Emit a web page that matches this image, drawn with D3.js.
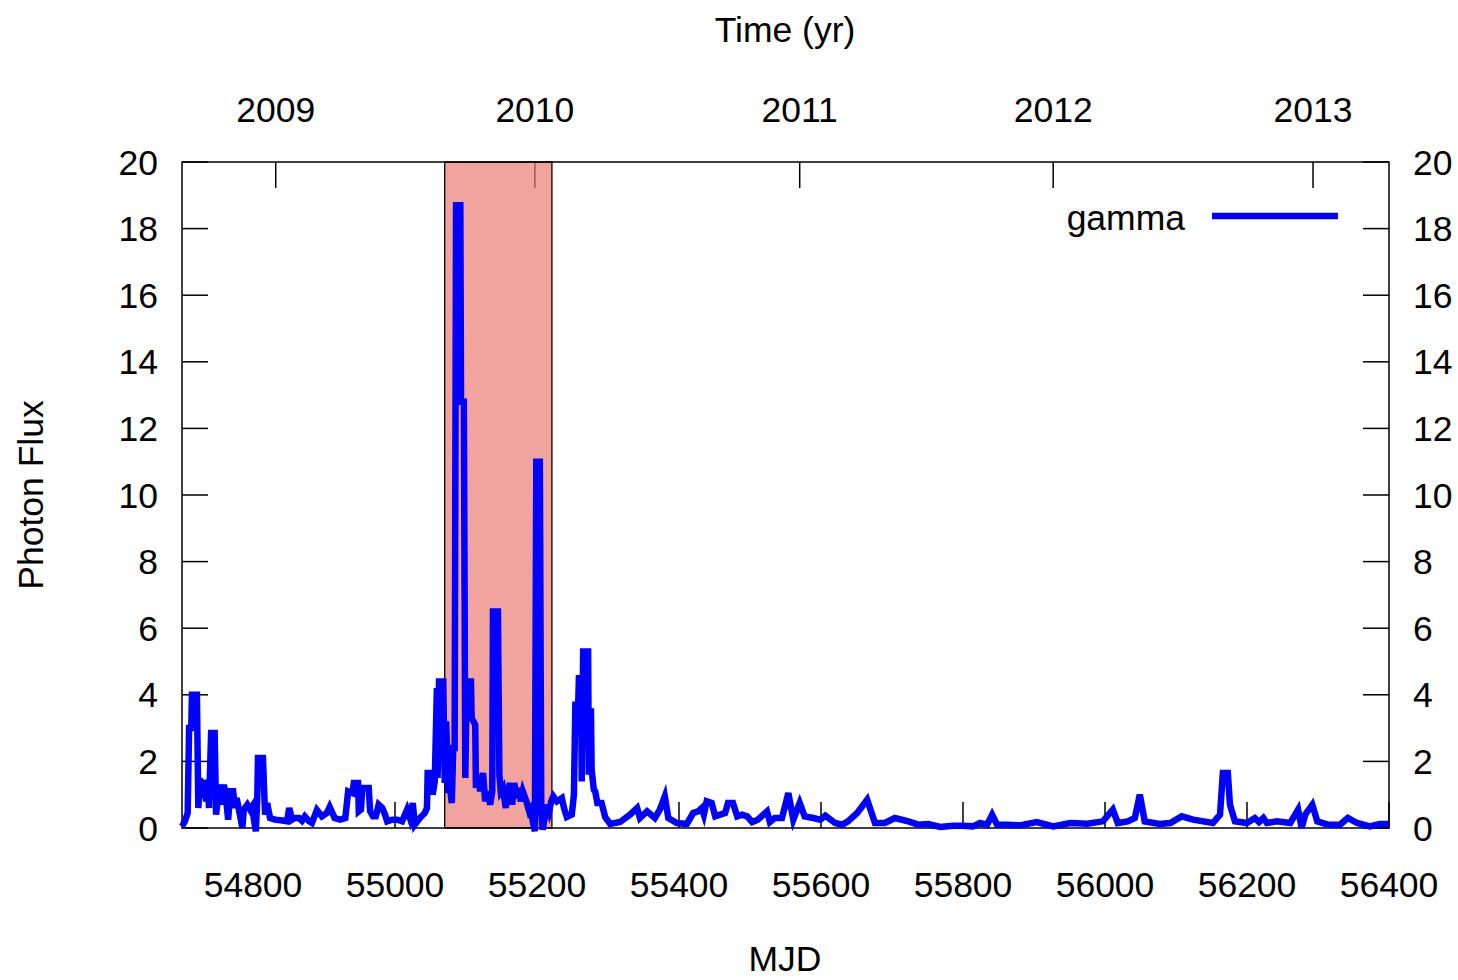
<!DOCTYPE html>
<html><head><meta charset="utf-8">
<script src="https://cdn.jsdelivr.net/npm/d3@7"></script>
<style>body{margin:0;background:#fff}text{font-family:"Liberation Sans",Arial,sans-serif;fill:#000}</style>
</head><body><svg id="c" width="1458" height="980"></svg>
<script>
const mjd = [54700,54704,54708,54710,54713,54714,54721,54723,54725,54728,54731,54734,54737,54738,54741,54746,54748,54751,54754,54756,54759,54762,54765,54768,54772,54775,54777,54782,54785,54787,54792,54796,54799,54801,54804,54806,54807,54814,54817,54820,54824,54831,54839,54848,54851,54855,
54859,54865,54869,54873,54879,54883,54890,54897,54904,54908,54915,54923,54930,54934,54940,54942,54948,54949,54952,54954,54963,54965,54969,54973,54977,54982,54986,54989,54996,55003,55010,55017,55021,55025,55028,55035,55042,55045,55046,55052,55053,55056,55059,55060,55062,55068,
55070,55072,55075,55077,55080,55082,55084,55086,55092,55093,55097,55099,55101,55107,55108,55113,55114,55117,55120,55124,55127,55131,55134,55137,55138,55145,55147,55149,55152,55156,55158,55162,55165,55168,55172,55175,55177,55180,55185,55189,55192,55194,55197,55199,55204,55206,55208,55214,55217,55220,
55223,55228,55235,55238,55242,55249,55252,55254,55258,55259,55262,55263,55265,55272,55273,55275,55276,55277,55280,55282,55285,55291,55296,55303,55317,55331,55341,55345,55355,55366,55373,55380,55385,55397,55411,55420,55427,55432,55435,55439,55446,55451,55458,55465,55469,55476,55482,55489,55496,55503,55511,55524,55528,55535,55545,55554,55561,55570,55577,55589,55599,55606,55620,55630,55638,55651,55665,55676,55690,55704,55723,55737,55751,55768,55786,55800,55814,55824,55834,55841,55848,55862,55880,55904,55927,55951,55975,55997,56011,56018,56032,56042,56049,56056,56077,56092,56108,56124,56152,56162,56166,56173,56176,56183,56200,56211,56217,56223,56228,56242,56261,56272,56277,56282,56292,56299,56314,56331,56342,56355,56373,56387,56400];
const flux = [0.05,0.2,0.45,3.0,3.0,4.0,4.0,0.6,1.5,0.9,1.45,0.8,1.2,0.6,2.85,2.85,0.4,1.0,1.3,0.7,1.3,0.9,0.25,1.1,1.1,0.6,0.9,0.35,0.0,0.55,0.7,0.55,0.65,0.3,-0.1,0.9,2.1,2.1,0.4,0.75,0.3,0.25,0.23,0.2,0.6,0.25,
0.3,0.3,0.22,0.35,0.2,0.15,0.54,0.35,0.45,0.63,0.3,0.25,0.3,1.1,1.05,1.35,1.35,0.5,0.55,1.2,1.2,0.5,0.35,0.35,0.7,0.6,0.4,0.2,0.25,0.25,0.2,0.55,0.3,0.75,0.1,0.3,0.45,0.6,1.65,1.65,1.0,1.4,4.2,1.5,4.4,4.4,
1.35,3.2,1.05,1.3,0.75,2.4,2.4,18.7,18.7,12.8,12.8,1.5,4.4,4.4,3.3,3.1,1.2,1.6,1.1,1.65,0.8,1.1,0.7,1.1,6.5,6.5,1.6,1.1,1.2,0.6,1.0,1.35,0.7,1.35,0.9,1.2,0.8,1.1,0.8,0.5,0.6,0.2,-0.1,11.0,11.0,0.5,-0.05,0.7,0.5,0.8,
0.95,0.8,0.9,0.6,0.33,0.4,1.0,3.7,3.7,4.5,4.5,1.4,5.3,5.3,1.6,3.5,3.5,1.75,1.15,1.1,0.75,0.75,0.33,0.12,0.18,0.4,0.6,0.3,0.5,0.3,0.55,0.95,0.3,0.15,0.12,0.45,0.5,0.6,0.4,0.8,0.75,0.35,0.4,0.45,0.75,0.75,0.35,0.4,0.35,0.18,0.25,0.5,0.18,0.3,0.3,1.05,0.25,0.75,0.35,0.3,0.25,0.37,0.15,0.1,0.2,0.45,0.85,0.15,0.15,0.3,0.2,0.1,0.12,0.03,0.07,0.07,0.05,0.15,0.1,0.4,0.1,0.1,0.08,0.18,0.05,0.15,0.13,0.2,0.55,0.15,0.2,0.3,1.0,0.2,0.12,0.15,0.35,0.25,0.15,0.4,1.65,1.65,0.7,0.2,0.15,0.3,0.18,0.3,0.15,0.2,0.15,0.55,0.0,0.4,0.7,0.2,0.1,0.1,0.3,0.15,0.05,0.12,0.12];
const xTicks = [54800,55000,55200,55400,55600,55800,56000,56200,56400];
const yTicks = [0,2,4,6,8,10,12,14,16,18,20];
const yearTickMJD = [54832,55197,55570,55927,56293];
const yearLabels = ["2009","2010","2011","2012","2013"];
const shaded = [55070,55221];
const seriesName = "gamma";

const svg = d3.select("#c");
const L=182,R=1389,T=162,B=828, tl=26, fs=35.5;
const x = d3.scaleLinear().domain([54700,56400]).range([L,R]);
const y = d3.scaleLinear().domain([0,20]).range([B,T]);

const g = svg.append("g").attr("stroke","#000").attr("stroke-width",1.5);
xTicks.forEach(v=>{ g.append("line").attr("x1",x(v)).attr("x2",x(v)).attr("y1",B).attr("y2",B-tl); });
yTicks.forEach(v=>{ g.append("line").attr("x1",L).attr("x2",L+tl).attr("y1",y(v)).attr("y2",y(v));
  g.append("line").attr("x1",R).attr("x2",R-tl).attr("y1",y(v)).attr("y2",y(v)); });
yearTickMJD.forEach(v=>{ g.append("line").attr("x1",x(v)).attr("x2",x(v)).attr("y1",T).attr("y2",T+tl); });

svg.append("rect").attr("x",x(shaded[0])).attr("y",T).attr("width",x(shaded[1])-x(shaded[0])).attr("height",B-T)
  .attr("fill","rgb(235,125,115)").attr("fill-opacity",0.7).attr("stroke","#000").attr("stroke-width",1.3);

svg.append("rect").attr("x",L).attr("y",T).attr("width",R-L).attr("height",B-T).attr("fill","none").attr("stroke","#000").attr("stroke-width",1.5);

xTicks.forEach(v=>svg.append("text").attr("x",x(v)).attr("y",897).attr("text-anchor","middle").attr("font-size",fs).text(v));
yTicks.forEach(v=>{
  svg.append("text").attr("x",158).attr("y",y(v)+12.5).attr("text-anchor","end").attr("font-size",fs).text(v);
  svg.append("text").attr("x",1413).attr("y",y(v)+12.5).attr("text-anchor","start").attr("font-size",fs).text(v);
});
yearTickMJD.forEach((v,i)=>svg.append("text").attr("x",x(v)).attr("y",122).attr("text-anchor","middle").attr("font-size",fs).text(yearLabels[i]));
svg.append("text").attr("x",785).attr("y",42).attr("text-anchor","middle").attr("font-size",fs).text("Time (yr)");
svg.append("text").attr("x",785).attr("y",971).attr("text-anchor","middle").attr("font-size",fs).text("MJD");
svg.append("text").attr("transform","translate(43,495) rotate(-90)").attr("text-anchor","middle").attr("font-size",fs).text("Photon Flux");

const data = mjd.map((d,i)=>[d,flux[i]]);
svg.append("path").datum(data).attr("fill","none").attr("stroke","#0000ff").attr("stroke-width",6.5)
  .attr("stroke-linejoin","miter").attr("d",d3.line().x(d=>x(d[0])).y(d=>y(d[1])));

svg.append("text").attr("x",1185).attr("y",230).attr("text-anchor","end").attr("font-size",fs).text(seriesName);
svg.append("line").attr("x1",1212).attr("x2",1338).attr("y1",216).attr("y2",216).attr("stroke","#0000ff").attr("stroke-width",6.5);
</script></body></html>
